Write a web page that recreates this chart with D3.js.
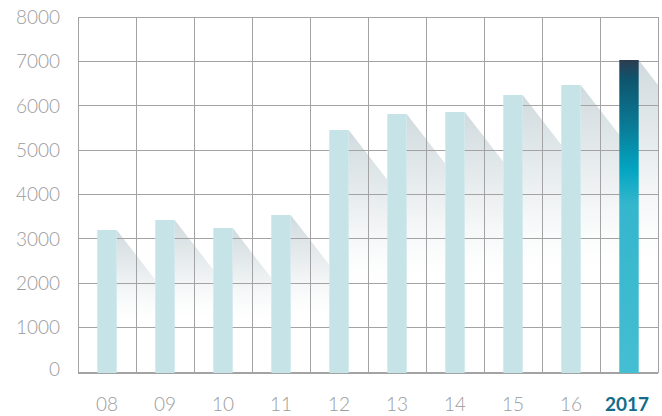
<!DOCTYPE html>
<html>
<head>
<meta charset="utf-8">
<script src="https://cdn.jsdelivr.net/npm/d3@7"></script>
<style>
  html, body { margin: 0; padding: 0; background: #fff; }
  svg { display: block; }
  text { font-family: Lato, "Open Sans", sans-serif; }
</style>
</head>
<body>
<svg id="chart" width="662" height="416"></svg>
<script>
const categories = ["08", "09", "10", "11", "12", "13", "14", "15", "16", "2017"];
const values = [3200, 3425, 3245, 3538, 5454, 5814, 5859, 6242, 6468, 7031];
const yTicks = [0, 1000, 2000, 3000, 4000, 5000, 6000, 7000, 8000];
const highlight = "2017";

(function () {
const svg = d3.select("#chart");
const pL = 78, pR = 658, pT = 17, pB = 372;

const x = d3.scaleBand().domain(categories).range([pL, pR]).padding(0);
const xb = d3.scaleBand().domain(categories).range([pL, pR]).paddingInner(0.665).paddingOuter(0.3325);
const y = d3.scaleLinear().domain([0, 8000]).range([pB, pT]);

const defs = svg.append("defs");
defs.append("clipPath").attr("id", "plotClip")
  .append("rect").attr("x", pL).attr("y", pT).attr("width", pR - pL).attr("height", pB - pT + 1);

const sg = defs.append("linearGradient").attr("id", "shadowGrad")
  .attr("x1", 0).attr("y1", 0).attr("x2", 0).attr("y2", 1);
sg.append("stop").attr("offset", 0).attr("stop-color", "#d0dade").attr("stop-opacity", 1);
sg.append("stop").attr("offset", 0.3).attr("stop-color", "#e3e9eb").attr("stop-opacity", 0.8);
sg.append("stop").attr("offset", 0.65).attr("stop-color", "#f4f6f7").attr("stop-opacity", 0);

const hg = defs.append("linearGradient").attr("id", "hiGrad")
  .attr("x1", 0).attr("y1", 0).attr("x2", 0).attr("y2", 1);
[[0, "#2c3c50"], [0.06, "#0e546d"], [0.2, "#0a7893"], [0.35, "#03a5c1"], [0.46, "#34b6cd"], [1, "#44bed2"]]
  .forEach(([o, c]) => hg.append("stop").attr("offset", o).attr("stop-color", c));

// shadows
const slope = 1.29;
const W = x.step() - xb.bandwidth();
const shadowG = svg.append("g").attr("clip-path", "url(#plotClip)");
categories.forEach((c, i) => {
  const x1 = xb(c) + xb.bandwidth();
  const yt = y(values[i]);
  shadowG.append("path")
    .attr("d", `M${x1},${yt} L${x1 + W},${yt + W * slope} L${x1 + W},${pB} L${x1},${pB} Z`)
    .attr("fill", "url(#shadowGrad)");
});

// grid
const grid = svg.append("g").attr("stroke", "#a3a3a3").attr("stroke-width", 1).attr("shape-rendering", "crispEdges");
yTicks.forEach(t => {
  grid.append("line").attr("x1", pL).attr("x2", pR).attr("y1", y(t)).attr("y2", y(t));
});
categories.forEach(c => {
  grid.append("line").attr("x1", x(c)).attr("x2", x(c)).attr("y1", pT).attr("y2", pB + 1);
});
grid.append("line").attr("x1", pR).attr("x2", pR).attr("y1", pT).attr("y2", pB + 1);
grid.append("line").attr("x1", pL).attr("x2", pR).attr("y1", pB + 1).attr("y2", pB + 1);

// bars
svg.append("g").selectAll("rect").data(categories).join("rect")
  .attr("x", d => xb(d))
  .attr("width", xb.bandwidth())
  .attr("y", (d, i) => y(values[i]))
  .attr("height", (d, i) => pB + 1 - y(values[i]))
  .attr("fill", d => d === highlight ? "url(#hiGrad)" : "#c6e4e8");

// y labels
svg.append("g").selectAll("text").data(yTicks).join("text")
  .attr("x", 60).attr("y", d => y(d) - (d === 0 ? 3 : 0))
  .attr("dy", "0.36em")
  .attr("text-anchor", "end")
  .attr("font-size", 19).attr("font-weight", 300)
  .attr("fill", "#9b9b9b")
  .text(d => d);

// x labels
svg.append("g").selectAll("text").data(categories).join("text")
  .attr("x", d => x(d) + x.bandwidth() / 2 - (d === highlight ? 2 : 0))
  .attr("y", 411)
  .attr("text-anchor", "middle")
  .attr("font-size", 19)
  .attr("font-weight", d => d === highlight ? 700 : 300)
  .attr("fill", d => d === highlight ? "#146c8a" : "#9b9b9b")
  .text(d => d);
})();
</script>
</body>
</html>
